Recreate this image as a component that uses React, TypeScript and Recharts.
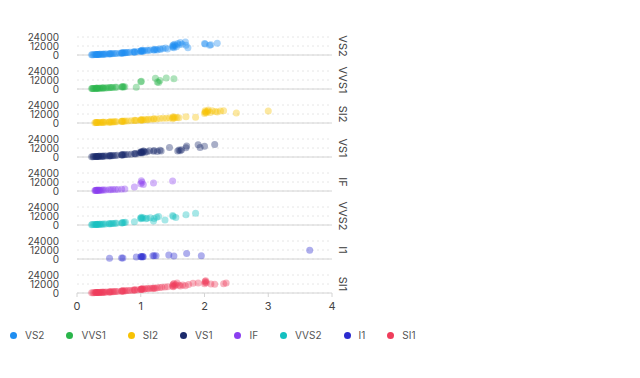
import React from "react"
import { ScatterChart, Scatter, XAxis, YAxis, CartesianGrid } from "recharts"

type Pt = [number, number] // [carat, price]

const clarities = ["VS2", "VVS1", "SI2", "VS1", "IF", "VVS2", "I1", "SI1"]
const colors = ["#1f8ef1", "#2ab54b", "#f7c204", "#1b2a6b", "#8b3ff0", "#14c0c0", "#2b2bcf", "#ef3d5b"]

const xTicks = [0, 1, 2, 3, 4]
const yTicks = [0, 12000, 24000]

const vs2: Pt[] = [
  [0.23, 430], [0.24, 460], [0.26, 500], [0.28, 560], [0.3, 600], [0.3, 680], [0.31, 720], [0.32, 760],
  [0.33, 700], [0.34, 820], [0.35, 860], [0.36, 900], [0.38, 940], [0.4, 1000], [0.41, 1050], [0.42, 1120],
  [0.44, 1180], [0.46, 1250], [0.5, 1400], [0.51, 1520], [0.52, 1600], [0.53, 1680], [0.55, 1750], [0.57, 1850],
  [0.6, 1950], [0.62, 2050], [0.67, 2300], [0.7, 2500], [0.7, 2750], [0.71, 2900], [0.72, 2650], [0.73, 3000],
  [0.75, 3100], [0.76, 2900], [0.78, 3300], [0.8, 3500], [0.83, 3600], [0.88, 3900], [0.9, 4100], [0.9, 4500],
  [0.91, 3800], [0.95, 4600], [1.0, 4900], [1.0, 5400], [1.01, 5800], [1.01, 5100], [1.02, 6200], [1.03, 4700],
  [1.04, 5600], [1.06, 6000], [1.1, 6300], [1.12, 5900], [1.15, 6600], [1.2, 7000], [1.21, 6400], [1.22, 7600],
  [1.24, 7200], [1.26, 6800], [1.3, 8200], [1.31, 7500], [1.35, 8600], [1.39, 9200], [1.42, 8000], [1.5, 10500],
  [1.5, 12200], [1.51, 11400], [1.51, 13200], [1.52, 9800], [1.53, 14500], [1.54, 12800], [1.56, 11000],
  [1.58, 15200], [1.6, 13600], [1.62, 16800], [1.65, 14200], [1.7, 17200], [1.71, 13000], [1.74, 9600],
  [2.0, 15400], [2.01, 14800], [2.08, 13100], [2.1, 13700], [2.2, 15600],
]

const vvs1: Pt[] = [
  [0.23, 600], [0.24, 640], [0.25, 700], [0.26, 720], [0.28, 780], [0.3, 850], [0.3, 900], [0.31, 920],
  [0.32, 980], [0.33, 1000], [0.35, 1080], [0.36, 1150], [0.38, 1200], [0.4, 1300], [0.41, 1350], [0.42, 1420],
  [0.45, 1500], [0.47, 1620], [0.5, 1750], [0.52, 1850], [0.54, 1950], [0.56, 2050], [0.6, 2200], [0.62, 2300],
  [0.7, 2650], [0.71, 2900], [0.72, 3100], [0.73, 2800], [0.75, 3000], [0.93, 2300], [1.0, 9800], [1.01, 10200],
  [1.23, 14400], [1.26, 9400], [1.28, 8800], [1.3, 11200], [1.4, 14800], [1.52, 13800],
]

const si2: Pt[] = [
  [0.28, 500], [0.3, 560], [0.3, 620], [0.31, 600], [0.32, 680], [0.34, 700], [0.36, 760], [0.38, 800],
  [0.4, 850], [0.41, 900], [0.42, 950], [0.45, 1000], [0.5, 1150], [0.51, 1300], [0.52, 1250], [0.54, 1400],
  [0.56, 1500], [0.58, 1550], [0.6, 1650], [0.62, 1700], [0.7, 2000], [0.7, 2300], [0.71, 2200], [0.72, 2500],
  [0.74, 2400], [0.76, 2600], [0.8, 2800], [0.85, 3000], [0.9, 3200], [0.91, 3600], [0.93, 3400], [1.0, 3800],
  [1.0, 4200], [1.01, 3900], [1.02, 4500], [1.04, 4100], [1.07, 4700], [1.1, 4400], [1.12, 4900], [1.16, 5100],
  [1.2, 5300], [1.21, 5600], [1.25, 5400], [1.3, 5900], [1.35, 6200], [1.4, 6500], [1.45, 6800], [1.5, 7200],
  [1.5, 5800], [1.51, 8200], [1.52, 6600], [1.54, 7800], [1.57, 7400], [1.6, 6900], [1.71, 8400], [1.86, 7600],
  [2.0, 12800], [2.01, 14500], [2.01, 16200], [2.02, 15000], [2.03, 13600], [2.05, 15800], [2.06, 17200],
  [2.09, 14100], [2.12, 16500], [2.17, 15400], [2.2, 14800], [2.25, 15900], [2.3, 16300], [2.5, 13200], [3.0, 16100],
]

const vs1: Pt[] = [
  [0.23, 450], [0.25, 500], [0.26, 540], [0.28, 600], [0.3, 650], [0.3, 720], [0.31, 700], [0.32, 780],
  [0.33, 820], [0.34, 860], [0.35, 880], [0.37, 920], [0.39, 980], [0.4, 1050], [0.41, 1100], [0.43, 1180],
  [0.46, 1260], [0.5, 1450], [0.51, 1600], [0.52, 1550], [0.53, 1700], [0.55, 1800], [0.57, 1900], [0.6, 2050],
  [0.63, 2200], [0.7, 2600], [0.7, 2900], [0.71, 2750], [0.72, 3100], [0.74, 3000], [0.76, 3300], [0.8, 3500],
  [0.85, 3700], [0.9, 4300], [0.91, 4700], [0.92, 4000], [0.97, 5200], [1.0, 5600], [1.0, 6400], [1.01, 6000],
  [1.01, 7200], [1.02, 5400], [1.03, 6800], [1.04, 8000], [1.05, 7600], [1.07, 6500], [1.1, 7000], [1.14, 8200],
  [1.2, 7700], [1.21, 8600], [1.26, 7400], [1.3, 8900], [1.32, 8100], [1.45, 12600], [1.58, 8000], [1.6, 9200],
  [1.62, 8500], [1.64, 9600], [1.71, 12400], [1.72, 14800], [1.9, 16200], [1.93, 12800], [2.0, 14200], [2.16, 16600],
]

const iF: Pt[] = [
  [0.28, 700], [0.29, 760], [0.3, 800], [0.3, 860], [0.31, 900], [0.32, 950], [0.33, 880], [0.34, 1000],
  [0.35, 1050], [0.36, 1100], [0.38, 1150], [0.4, 1250], [0.42, 1300], [0.45, 1400], [0.5, 1600], [0.53, 1750],
  [0.56, 1850], [0.6, 2000], [0.64, 2150], [0.7, 2400], [0.75, 2600], [0.9, 5200], [1.0, 9600], [1.01, 13800],
  [1.02, 11800], [1.04, 8600], [1.2, 10800], [1.5, 13200],
]

const vvs2: Pt[] = [
  [0.23, 500], [0.24, 560], [0.26, 600], [0.28, 650], [0.3, 700], [0.3, 760], [0.31, 800], [0.32, 850],
  [0.33, 820], [0.35, 900], [0.36, 950], [0.38, 1000], [0.4, 1100], [0.42, 1200], [0.45, 1300], [0.5, 1600],
  [0.51, 1700], [0.53, 1800], [0.55, 1900], [0.57, 2000], [0.6, 2200], [0.62, 2300], [0.7, 2800], [0.71, 3100],
  [0.72, 2900], [0.74, 3300], [0.76, 3600], [0.9, 4400], [1.0, 8500], [1.0, 9400], [1.01, 10200], [1.02, 8900],
  [1.04, 9800], [1.08, 8200], [1.1, 9000], [1.15, 9600], [1.2, 5200], [1.21, 8800], [1.25, 10400], [1.28, 11200],
  [1.38, 6600], [1.5, 12800], [1.51, 11400], [1.55, 10000], [1.71, 13600], [1.86, 15600],
]

const i1: Pt[] = [
  [0.51, 1000], [0.7, 1300], [0.72, 1500], [0.93, 2600], [1.0, 3000], [1.01, 3500], [1.02, 2600], [1.03, 3300],
  [1.04, 2900], [1.19, 4200], [1.21, 4500], [1.24, 4300], [1.44, 5400], [1.52, 4000], [1.72, 7400], [1.95, 4400],
  [3.65, 11800],
]

const si1: Pt[] = [
  [0.23, 380], [0.25, 450], [0.27, 500], [0.29, 540], [0.3, 580], [0.3, 650], [0.31, 620], [0.32, 700],
  [0.33, 680], [0.34, 740], [0.35, 780], [0.36, 800], [0.37, 850], [0.39, 900], [0.4, 950], [0.41, 1000],
  [0.42, 1050], [0.44, 1100], [0.46, 1180], [0.5, 1350], [0.51, 1500], [0.52, 1450], [0.53, 1580], [0.55, 1650],
  [0.57, 1750], [0.59, 1850], [0.61, 1950], [0.64, 2100], [0.7, 2400], [0.7, 2700], [0.71, 2600], [0.72, 2850],
  [0.73, 2500], [0.75, 2950], [0.77, 3050], [0.8, 3200], [0.83, 3400], [0.87, 3600], [0.9, 3800], [0.9, 4200],
  [0.91, 4000], [0.95, 4400], [1.0, 4600], [1.0, 5100], [1.01, 4800], [1.01, 5500], [1.02, 5300], [1.03, 5800],
  [1.05, 5000], [1.07, 5600], [1.1, 6000], [1.12, 5700], [1.15, 6200], [1.18, 6400], [1.2, 6100], [1.21, 6800],
  [1.23, 6500], [1.26, 7000], [1.3, 7200], [1.33, 7600], [1.38, 8000], [1.42, 8400], [1.5, 9000], [1.5, 10500],
  [1.51, 11800], [1.51, 8400], [1.52, 12800], [1.53, 9800], [1.55, 11000], [1.57, 13400], [1.6, 10200],
  [1.62, 9200], [1.66, 10800], [1.7, 9600], [1.75, 11500], [1.82, 13000], [1.9, 13400], [2.0, 12200],
  [2.01, 15800], [2.01, 14200], [2.02, 16400], [2.03, 13600], [2.1, 12000], [2.16, 11600], [2.3, 12400], [2.34, 13200],
]

const seriesData = [vs2, vvs1, si2, vs1, iF, vvs2, i1, si1]

const FONT = "Inter, 'Noto Sans', sans-serif"
const FIRST_BASE = 55
const ROW_STEP = 34

function Facet({ idx }: { idx: number }) {
  const last = idx === clarities.length - 1
  const base = FIRST_BASE + idx * ROW_STEP
  const color = colors[idx]
  const data = seriesData[idx].map(([carat, price]) => ({ carat, price }))
  return (
    <>
      <div style={{ position: "absolute", left: 0, top: base - 26 }}>
        <ScatterChart width={340} height={last ? 52 : 32} margin={{ top: 8, right: 8, bottom: 0, left: 5 }}>
          <CartesianGrid vertical={false} stroke="#e6e6e6" strokeDasharray="2 3" />
          <XAxis
            type="number"
            dataKey="carat"
            domain={[0, 4]}
            ticks={xTicks}
            interval={0}
            height={last ? 26 : 6}
            tick={last ? { fontSize: 11, fill: "#444", fontFamily: FONT } : false}
            tickSize={4}
            tickMargin={5}
            axisLine={{ stroke: "#d4d4d4" }}
            tickLine={{ stroke: "#d4d4d4" }}
          />
          <YAxis
            type="number"
            dataKey="price"
            domain={[0, 24000]}
            ticks={yTicks}
            interval={0}
            width={72}
            axisLine={false}
            tickLine={false}
            tickSize={6}
            tickMargin={12}
            tick={{ fontSize: 10, fill: "#444", fontFamily: FONT }}
          />
          <Scatter
            data={data}
            isAnimationActive={false}
            shape={(p: any) => <circle cx={p.cx} cy={p.cy} r={3.5} fill={color} fillOpacity={0.38} />}
          />
        </ScatterChart>
      </div>
      <div
        style={{
          position: "absolute",
          left: 336,
          top: base - 9,
          transform: "translateY(-50%)",
          writingMode: "vertical-rl",
          fontSize: 11,
          lineHeight: "13px",
          color: "#444",
          fontFamily: FONT,
        }}
      >
        {clarities[idx]}
      </div>
    </>
  )
}

export default function App() {
  return (
    <div style={{ position: "absolute", left: 0, top: 0, width: 640, height: 378, background: "#fff", fontFamily: FONT }}>
      {clarities.map((c, i) => (
        <Facet key={c} idx={i} />
      ))}
      <div
        style={{
          position: "absolute",
          left: 10,
          top: 329,
          display: "flex",
          alignItems: "center",
          fontSize: 10,
          lineHeight: "12px",
          color: "#555",
        }}
      >
        {clarities.map((c, i) => (
          <div key={c} style={{ display: "flex", alignItems: "center", marginRight: 22 }}>
            <span
              style={{ width: 7, height: 7, borderRadius: "50%", background: colors[i], marginRight: 8, display: "inline-block" }}
            />
            {c}
          </div>
        ))}
      </div>
    </div>
  )
}
